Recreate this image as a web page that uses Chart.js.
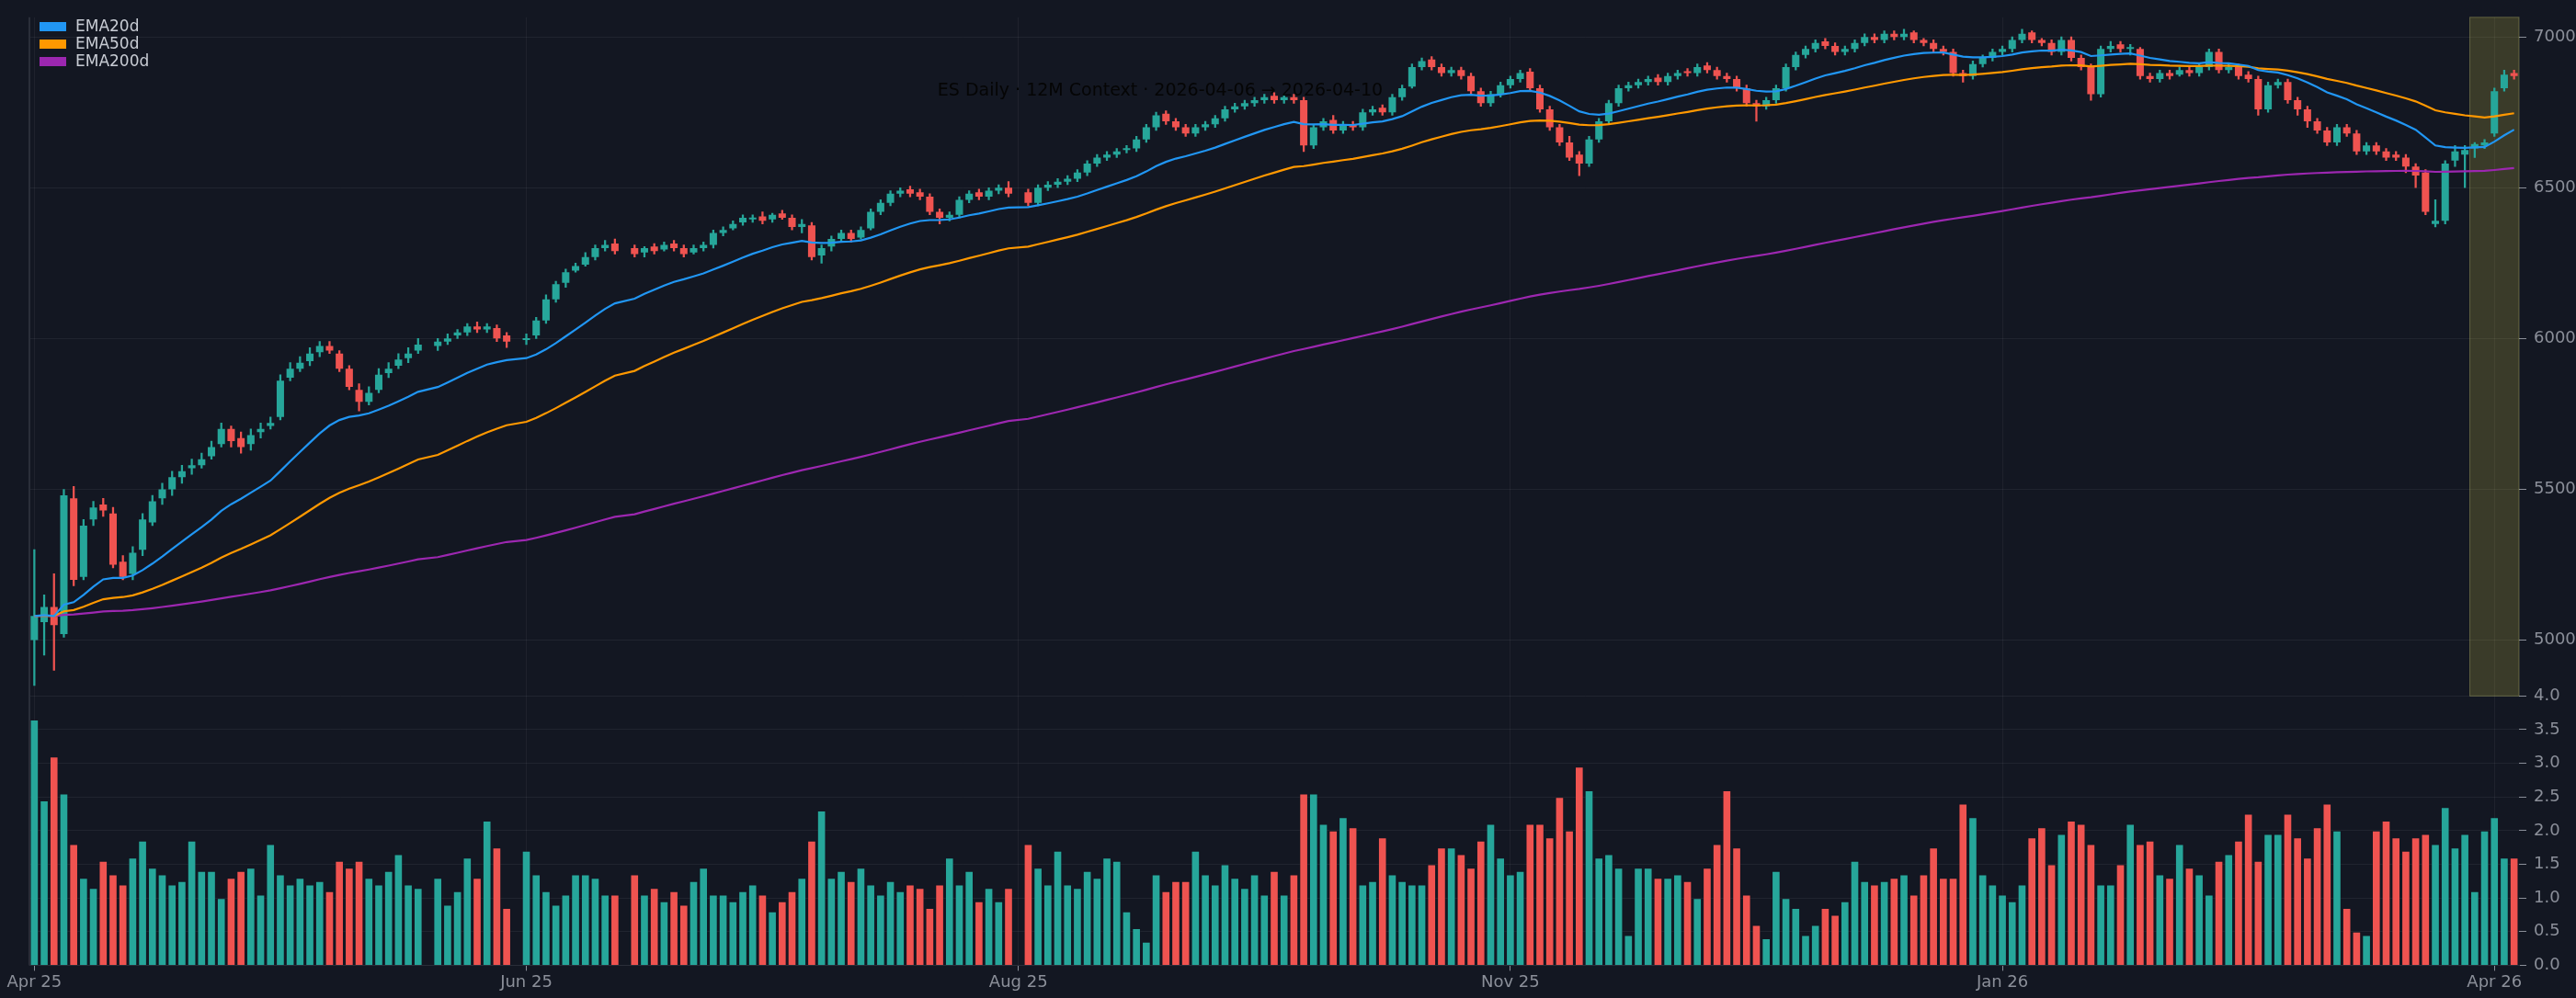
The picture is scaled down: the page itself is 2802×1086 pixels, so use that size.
<!DOCTYPE html>
<html>
<head>
<meta charset="utf-8">
<script src="https://cdn.jsdelivr.net/npm/chart.js@4.4.1/dist/chart.umd.min.js"></script>
<style>
  html, body { margin: 0; padding: 0; background: #131722; }
  #wrap { width: 2802px; height: 1086px; position: relative; }
</style>
</head>
<body>
<div id="wrap"><canvas id="esChart" width="2802" height="1086"></canvas></div>
<script>
// ES daily OHLC (null = missing day)
var opens = [
  5000,5060,5110,5020,5470,5210,5400,5450,5420,5260,
  5220,5300,5390,5470,5500,5540,5570,5580,5610,5650,
  5700,5670,5650,5690,5710,5740,5870,5900,5925,5955,
  5975,5950,5900,5830,5790,5830,5885,5910,5935,5960,
  null,5975,5990,6010,6020,6040,6030,6035,6010,null,
  5995,6010,6060,6130,6185,6225,6245,6270,6300,6315,
  null,6300,6285,6305,6295,6315,6300,6285,6300,6310,
  6350,6365,6385,6395,6405,6395,6415,6400,6370,6375,
  6275,6305,6330,6350,6335,6365,6420,6450,6480,6495,
  6485,6470,6420,6400,6410,6460,6485,6470,6490,6500,
  null,6485,6450,6500,6510,6520,6530,6550,6580,6600,
  6610,6625,6630,6660,6700,6745,6720,6700,6680,6700,
  6710,6730,6760,6770,6780,6790,6805,6790,6800,6790,
  6640,6700,6725,6690,6710,6700,6750,6765,6750,6800,
  6835,6900,6925,6900,6880,6890,6870,6820,6780,6810,
  6840,6860,6885,6830,6760,6700,6650,6610,6580,6660,
  6720,6780,6830,6840,6850,6865,6850,6870,6885,6880,
  6905,6890,6870,6860,6830,6780,6770,6790,6830,6900,
  6940,6960,6985,6970,6950,6960,6980,7000,6990,7010,
  7000,7015,6990,6980,6960,6950,6880,6870,6910,6930,
  6950,6960,6990,7015,6990,6980,6950,6990,6930,6900,
  6810,6960,6975,6960,6960,6870,6860,6880,6875,6890,
  6880,6900,6950,6890,6900,6875,6860,6760,6840,6850,
  6790,6760,6720,6690,6650,6700,6680,6620,6640,6620,
  6610,6600,6570,6550,6380,6390,6590,6610,6630,6640,
  6680,6830,6880
];
var highs = [
  5300,5150,5220,5500,5510,5400,5460,5470,5440,5280,
  5310,5420,5480,5520,5560,5580,5600,5620,5660,5720,
  5710,5690,5700,5720,5740,5880,5920,5940,5970,5990,
  5990,5960,5910,5850,5840,5900,5920,5950,5970,6000,
  null,6000,6015,6030,6050,6055,6050,6045,6020,null,
  6015,6070,6145,6190,6230,6250,6285,6310,6325,6330,
  null,6310,6305,6315,6320,6325,6310,6310,6320,6360,
  6370,6390,6410,6410,6420,6415,6425,6410,6395,6385,
  6310,6340,6360,6360,6370,6430,6460,6490,6500,6505,
  6495,6480,6430,6420,6470,6490,6495,6500,6510,6520,
  null,6495,6510,6520,6530,6540,6560,6590,6610,6620,
  6630,6640,6670,6710,6750,6755,6730,6710,6710,6720,
  6740,6770,6780,6790,6800,6810,6815,6810,6810,6800,
  6710,6730,6740,6720,6720,6760,6770,6775,6810,6840,
  6910,6930,6935,6910,6900,6900,6880,6830,6820,6850,
  6870,6890,6895,6840,6770,6710,6670,6620,6670,6730,
  6790,6840,6850,6860,6870,6875,6880,6890,6895,6910,
  6915,6900,6880,6870,6840,6790,6800,6840,6910,6950,
  6970,6990,6995,6980,6970,6990,7010,7010,7020,7020,
  7025,7020,6995,6990,6970,6960,6890,6920,6940,6960,
  6970,7000,7025,7020,6995,6990,7000,7000,6940,6910,
  6970,6985,6985,6975,6965,6880,6890,6890,6900,6900,
  6910,6960,6960,6910,6910,6885,6870,6850,6860,6860,
  6800,6770,6730,6700,6710,6710,6690,6650,6650,6630,
  6620,6610,6580,6560,6460,6590,6640,6640,6650,6660,
  6830,6890,6890
];
var lows = [
  4850,4950,4900,5010,5180,5200,5380,5410,5240,5200,
  5200,5280,5380,5450,5480,5520,5550,5570,5600,5640,
  5640,5620,5630,5670,5700,5730,5860,5890,5910,5940,
  5950,5890,5830,5760,5780,5820,5870,5900,5920,5950,
  null,5960,5980,6000,6010,6020,6020,5990,5970,null,
  5980,6000,6050,6120,6170,6220,6240,6260,6290,6280,
  null,6270,6270,6280,6290,6290,6270,6280,6290,6300,
  6340,6360,6375,6385,6380,6385,6395,6360,6350,6260,
  6250,6290,6320,6320,6330,6360,6410,6440,6470,6470,
  6460,6410,6380,6390,6400,6450,6460,6460,6480,6470,
  null,6440,6440,6490,6500,6510,6520,6540,6570,6590,
  6600,6615,6620,6650,6690,6710,6690,6670,6670,6690,
  6700,6720,6750,6760,6770,6780,6780,6780,6780,6620,
  6630,6690,6680,6680,6690,6690,6740,6740,6740,6790,
  6830,6890,6890,6870,6870,6860,6810,6770,6770,6800,
  6830,6850,6820,6750,6690,6640,6590,6540,6570,6650,
  6710,6770,6820,6830,6840,6840,6840,6860,6870,6870,
  6880,6860,6850,6820,6770,6720,6760,6780,6820,6890,
  6930,6950,6960,6940,6940,6950,6970,6980,6980,6990,
  6990,6980,6970,6950,6940,6870,6850,6860,6900,6920,
  6940,6950,6980,6980,6970,6940,6940,6920,6890,6790,
  6800,6950,6950,6940,6860,6850,6850,6860,6870,6870,
  6870,6890,6880,6880,6860,6850,6740,6750,6830,6780,
  6740,6700,6680,6640,6640,6670,6610,6610,6610,6590,
  6590,6550,6500,6410,6370,6380,6570,6500,6600,6630,
  6670,6820,6860
];
var closes = [
  5080,5110,5050,5480,5200,5380,5440,5430,5250,5210,
  5290,5400,5460,5500,5540,5560,5580,5600,5640,5700,
  5660,5640,5680,5700,5720,5860,5900,5920,5950,5975,
  5960,5900,5840,5790,5820,5880,5900,5930,5950,5980,
  null,5990,6000,6020,6040,6030,6040,6000,5990,null,
  6000,6060,6130,6180,6220,6240,6270,6300,6310,6290,
  null,6280,6300,6290,6310,6300,6280,6300,6310,6350,
  6360,6380,6400,6400,6390,6410,6400,6370,6380,6270,
  6300,6330,6350,6330,6360,6420,6450,6480,6490,6480,
  6470,6420,6400,6410,6460,6480,6470,6490,6500,6480,
  null,6450,6500,6510,6520,6530,6550,6580,6600,6610,
  6620,6630,6660,6700,6740,6720,6700,6680,6700,6710,
  6730,6760,6770,6780,6790,6800,6790,6800,6790,6640,
  6700,6720,6690,6710,6700,6750,6760,6750,6800,6830,
  6900,6920,6900,6880,6890,6870,6820,6780,6810,6840,
  6860,6880,6830,6760,6700,6650,6600,6580,6660,6720,
  6780,6830,6840,6850,6860,6850,6870,6880,6880,6900,
  6890,6870,6860,6830,6780,6770,6790,6830,6900,6940,
  6960,6980,6970,6950,6960,6980,7000,6990,7010,7000,
  7010,6990,6980,6960,6950,6880,6870,6910,6930,6950,
  6960,6990,7010,6990,6980,6950,6990,6930,6900,6810,
  6960,6970,6960,6960,6870,6860,6880,6870,6890,6880,
  6900,6950,6890,6900,6870,6860,6760,6840,6850,6790,
  6760,6720,6690,6650,6700,6680,6620,6640,6620,6600,
  6600,6570,6540,6420,6390,6580,6620,6625,6645,6650,
  6820,6875,6870
];
// volume, millions of contracts
var volume = [
  3.65,2.45,3.1,2.55,1.8,1.3,1.15,1.55,1.35,1.2,
  1.6,1.85,1.45,1.35,1.2,1.25,1.85,1.4,1.4,1.0,
  1.3,1.4,1.45,1.05,1.8,1.35,1.2,1.3,1.2,1.25,
  1.1,1.55,1.45,1.55,1.3,1.2,1.4,1.65,1.2,1.15,
  null,1.3,0.9,1.1,1.6,1.3,2.15,1.75,0.85,null,
  1.7,1.35,1.1,0.9,1.05,1.35,1.35,1.3,1.05,1.05,
  null,1.35,1.05,1.15,0.95,1.1,0.9,1.25,1.45,1.05,
  1.05,0.95,1.1,1.2,1.05,0.8,0.95,1.1,1.3,1.85,
  2.3,1.3,1.4,1.25,1.45,1.2,1.05,1.25,1.1,1.2,
  1.15,0.85,1.2,1.6,1.2,1.4,0.95,1.15,0.95,1.15,
  null,1.8,1.45,1.2,1.7,1.2,1.15,1.4,1.3,1.6,
  1.55,0.8,0.55,0.35,1.35,1.1,1.25,1.25,1.7,1.35,
  1.2,1.5,1.3,1.15,1.35,1.05,1.4,1.05,1.35,2.55,
  2.55,2.1,2.0,2.2,2.05,1.2,1.25,1.9,1.35,1.25,
  1.2,1.2,1.5,1.75,1.75,1.65,1.45,1.85,2.1,1.6,
  1.35,1.4,2.1,2.1,1.9,2.5,2.0,2.95,2.6,1.6,
  1.65,1.45,0.45,1.45,1.45,1.3,1.3,1.35,1.25,1.0,
  1.45,1.8,2.6,1.75,1.05,0.6,0.4,1.4,1.0,0.85,
  0.45,0.6,0.85,0.75,0.95,1.55,1.25,1.2,1.25,1.3,
  1.35,1.05,1.35,1.75,1.3,1.3,2.4,2.2,1.35,1.2,
  1.05,0.95,1.2,1.9,2.05,1.5,1.95,2.15,2.1,1.8,
  1.2,1.2,1.5,2.1,1.8,1.85,1.35,1.3,1.8,1.45,
  1.35,1.05,1.55,1.65,1.85,2.25,1.55,1.95,1.95,2.25,
  1.9,1.6,2.05,2.4,2.0,0.85,0.5,0.45,2.0,2.15,
  1.9,1.7,1.9,1.95,1.8,2.35,1.75,1.95,1.1,2.0,
  2.2,1.6,1.6
];
var tickIdx = [0, 50, 100, 150, 200, 250];
var tickText = ['Apr 25', 'Jun 25', 'Aug 25', 'Nov 25', 'Jan 26', 'Apr 26'];
var highlightFrom = 248; // 2026-04-06 .. 2026-04-10

var UP = '#26a69a', DOWN = '#ef5350';

function ema(src, n) {
    var k = 2 / (n + 1), out = [], prev = null;
    for (var i = 0; i < src.length; i++) {
        if (src[i] === null) { out.push(null); continue; }
        prev = prev === null ? src[i] : src[i] * k + prev * (1 - k);
        out.push(prev);
    }
    return out;
}

var labels = [], bodies = [], wicks = [], up = [];
for (var i = 0; i < closes.length; i++) {
    labels.push(i);
    if (closes[i] === null) { bodies.push(null); wicks.push(null); up.push(true); continue; }
    bodies.push([opens[i], closes[i]]);
    wicks.push([lows[i], highs[i]]);
    up.push(closes[i] >= opens[i]);
}
function candleColor(ctx) { return up[ctx.dataIndex] ? UP : DOWN; }

var overlay = {
    id: 'overlay',
    beforeDatasetsDraw: function (chart) {
        var c = chart.ctx, x = chart.scales.x, y = chart.scales.y;
        var step = x.getPixelForValue(1) - x.getPixelForValue(0);
        var left = x.getPixelForValue(highlightFrom) - step / 2;
        c.save();
        // left frame line
        c.strokeStyle = '#2a2e39';
        c.lineWidth = 2;
        c.beginPath();
        c.moveTo(chart.chartArea.left, chart.chartArea.top);
        c.lineTo(chart.chartArea.left, chart.chartArea.bottom);
        c.stroke();
        c.lineWidth = 1;
        c.fillStyle = 'rgba(255,235,80,0.17)';
        c.strokeStyle = 'rgba(200,200,120,0.35)';
        c.fillRect(left, y.top, chart.chartArea.right - left, y.bottom - y.top);
        c.strokeRect(left, y.top, chart.chartArea.right - left, y.bottom - y.top);
        c.restore();
    },
    afterDraw: function (chart) {
        var c = chart.ctx;
        c.save();
        // legend
        var items = [['EMA20d', '#2196f3'], ['EMA50d', '#ff9800'], ['EMA200d', '#9c27b0']];
        c.font = '17px "DejaVu Sans"';
        c.textBaseline = 'middle';
        for (var k = 0; k < items.length; k++) {
            var yy = 29 + k * 19;
            c.fillStyle = items[k][1];
            c.fillRect(43, yy - 5, 29, 10);
            c.fillStyle = '#c8ccd4';
            c.fillText(items[k][0], 82, yy + 1);
        }
        // title
        c.font = '19px "DejaVu Sans"';
        c.fillStyle = '#050505';
        c.textAlign = 'center';
        c.fillText('ES Daily · 12M Context · 2026-04-06 → 2026-04-10', 1262, 99);
        c.restore();
    }
};

var axisFont = { family: 'DejaVu Sans', size: 18 };
var gridLine = {
    color: 'rgba(255,255,255,0.06)',
    tickColor: '#8b8f99',
    tickLength: 8,
    drawTicks: true
};

new Chart(document.getElementById('esChart'), {
    data: {
        labels: labels,
        datasets: [
            { type: 'line', label: 'EMA20d', data: ema(closes, 20), borderColor: '#2196f3', borderWidth: 2.2, pointRadius: 0, spanGaps: true, yAxisID: 'y', order: 1 },
            { type: 'line', label: 'EMA50d', data: ema(closes, 50), borderColor: '#ff9800', borderWidth: 2.2, pointRadius: 0, spanGaps: true, yAxisID: 'y', order: 1 },
            { type: 'line', label: 'EMA200d', data: ema(closes, 200), borderColor: '#9c27b0', borderWidth: 2.2, pointRadius: 0, spanGaps: true, yAxisID: 'y', order: 1 },
            { type: 'bar', label: 'wick', data: wicks, backgroundColor: candleColor, barThickness: 1.6, grouped: false, yAxisID: 'y', order: 3 },
            { type: 'bar', label: 'body', data: bodies, backgroundColor: candleColor, barPercentage: 0.75, categoryPercentage: 1, minBarLength: 2, grouped: false, yAxisID: 'y', order: 2 },
            { type: 'bar', label: 'volume', data: volume, backgroundColor: function (ctx) { return up[ctx.dataIndex] ? UP : DOWN; },
              borderColor: 'rgba(19,23,34,0.25)', borderWidth: 1, barPercentage: 0.9, categoryPercentage: 1, grouped: false, yAxisID: 'yv', order: 2 }
        ]
    },
    options: {
        responsive: false,
        animation: false,
        layout: { padding: { left: 32, top: 0, right: 0, bottom: 4 } },
        plugins: { legend: { display: false }, tooltip: { enabled: false } },
        scales: {
            x: {
                type: 'category',
                offset: true,
                grid: {
                    color: function (ctx) { return tickIdx.indexOf(ctx.index) >= 0 ? 'rgba(255,255,255,0.05)' : 'rgba(0,0,0,0)'; },
                    tickColor: function (ctx) { return tickIdx.indexOf(ctx.index) >= 0 ? '#8b8f99' : 'rgba(0,0,0,0)'; },
                    tickLength: 6, offset: false
                },
                border: { color: '#2a2e39' },
                ticks: {
                    autoSkip: false, maxRotation: 0, color: '#8b8f99', font: axisFont, padding: 2,
                    callback: function (v, idx) { var p = tickIdx.indexOf(idx); return p >= 0 ? tickText[p] : ''; }
                }
            },
            y: {
                position: 'right', stack: 'panes', stackWeight: 2.52, min: 4815, max: 7065,
                grid: gridLine, border: { display: false },
                ticks: { color: '#8b8f99', font: axisFont, padding: 8,
                         callback: function (v) { return String(v); } },
                afterBuildTicks: function (s) {
                    var t = [];
                    for (var v = 5000; v <= 7000; v += 500) t.push({ value: v });
                    s.ticks = t;
                },
                afterFit: function (s) { s.width = 62; }
            },
            yv: {
                position: 'right', stack: 'panes', stackWeight: 1, min: 0, max: 4.0,
                grid: gridLine, border: { display: false },
                ticks: { stepSize: 0.5, autoSkip: false, color: '#8b8f99', font: axisFont, padding: 8,
                         callback: function (v) { return v.toFixed(1); } },
                afterFit: function (s) { s.width = 62; }
            }
        }
    },
    plugins: [overlay]
});
</script>
</body>
</html>
